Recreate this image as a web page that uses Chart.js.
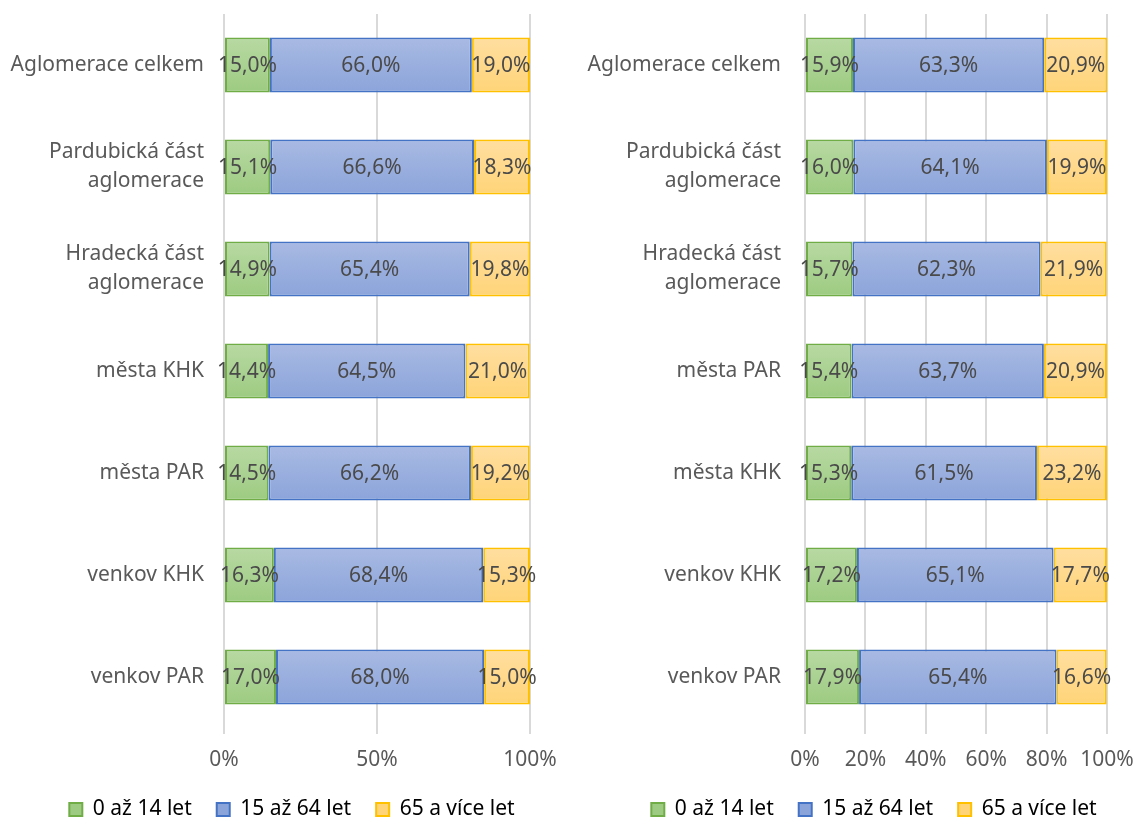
<!DOCTYPE html>
<html>
<head>
<meta charset="utf-8">
<script src="https://cdn.jsdelivr.net/npm/chart.js@4"></script>
<style>
  body { margin: 0; background: #fff; }
  .box { position: absolute; top: 0; width: 565px; height: 820px; }
  #left { left: 0; }
  #right { left: 573px; }
</style>
</head>
<body>
<div class="box" id="left"><canvas id="chartLeft"></canvas></div>
<div class="box" id="right"><canvas id="chartRight"></canvas></div>
<script>
// series
const seriesNames = ["0 až 14 let", "15 až 64 let", "65 a více let"];

// left chart
const leftLabels = ["Aglomerace celkem", ["Pardubická část", "aglomerace"], ["Hradecká část", "aglomerace"], "města KHK", "města PAR", "venkov KHK", "venkov PAR"];
const leftYoung = [15.0, 15.1, 14.9, 14.4, 14.5, 16.3, 17.0];
const leftMid = [66.0, 66.6, 65.4, 64.5, 66.2, 68.4, 68.0];
const leftOld = [19.0, 18.3, 19.8, 21.0, 19.2, 15.3, 15.0];
const leftTicks = [0, 50, 100];

// right chart
const rightLabels = ["Aglomerace celkem", ["Pardubická část", "aglomerace"], ["Hradecká část", "aglomerace"], "města PAR", "města KHK", "venkov KHK", "venkov PAR"];
const rightYoung = [15.9, 16.0, 15.7, 15.4, 15.3, 17.2, 17.9];
const rightMid = [63.3, 64.1, 62.3, 63.7, 61.5, 65.1, 65.4];
const rightOld = [20.9, 19.9, 21.9, 20.9, 23.2, 17.7, 16.6];
const rightTicks = [0, 20, 40, 60, 80, 100];

const fillTop = ["#b8d9a3", "#a9bae3", "#ffdea0"];
const fillBottom = ["#9dcb81", "#8ba4da", "#ffd478"];
const borders = ["#70ad47", "#4472c4", "#ffc000"];
const textColor = "#595959";
const fontFamily = "'Noto Sans', sans-serif";
const barPct = 0.54;

function fmt(v) {
  return v.toFixed(1).replace(".", ",") + "%";
}

// excel-like vertical gradient on each bar
function barFill(i) {
  return function (c) {
    const chart = c.chart;
    const y = chart.scales.y;
    if (!chart.chartArea || !y || c.dataIndex === undefined) return fillBottom[i];
    const mid = y.getPixelForValue(c.dataIndex);
    const half = (chart.chartArea.height / chart.data.labels.length) * barPct / 2;
    const g = chart.ctx.createLinearGradient(0, mid - half, 0, mid + half);
    g.addColorStop(0, fillTop[i]);
    g.addColorStop(1, fillBottom[i]);
    return g;
  };
}

const barLabels = {
  id: "barLabels",
  afterDatasetsDraw(chart) {
    const ctx = chart.ctx;
    ctx.save();
    ctx.font = "21px " + fontFamily;
    ctx.fillStyle = "#4a4a4a";
    ctx.textAlign = "center";
    ctx.textBaseline = "middle";
    chart.data.datasets.forEach((ds, i) => {
      chart.getDatasetMeta(i).data.forEach((el, j) => {
        ctx.fillText(fmt(ds.data[j]), (el.x + el.base) / 2, el.y + 1);
      });
    });
    ctx.restore();
  }
};

// legend sits under the plot, not under the whole canvas
const legendShift = {
  id: "legendShift",
  afterLayout(chart, args, opts) {
    chart.legend.left += opts.dx;
    chart.legend.right += opts.dx;
  }
};

function makeChart(id, labels, young, mid, old, ticks, axisWidth, labelPad, padRight, dx) {
  const values = [young, mid, old];
  new Chart(id, {
    type: "bar",
    data: {
      labels: labels,
      datasets: seriesNames.map((name, i) => ({
        label: name,
        data: values[i],
        backgroundColor: barFill(i),
        borderColor: borders[i],
        borderWidth: 2,
        borderSkipped: false,
        barPercentage: barPct,
        categoryPercentage: 1
      }))
    },
    options: {
      indexAxis: "y",
      responsive: true,
      maintainAspectRatio: false,
      animation: false,
      layout: { padding: { top: 14, right: padRight, bottom: -10, left: 0 } },
      plugins: {
        tooltip: { enabled: false },
        legendShift: { dx: dx },
        legend: {
          position: "bottom",
          labels: {
            color: textColor,
            font: { family: fontFamily, size: 21 },
            boxWidth: 13,
            boxHeight: 13,
            padding: 25,
            generateLabels(chart) {
              return chart.data.datasets.map((ds, i) => ({
                text: ds.label,
                fillStyle: fillBottom[i],
                strokeStyle: borders[i],
                lineWidth: 2,
                datasetIndex: i
              }));
            }
          }
        }
      },
      scales: {
        x: {
          stacked: true,
          min: 0,
          max: 100,
          afterBuildTicks(axis) {
            axis.ticks = ticks.map(v => ({ value: v }));
          },
          afterFit(axis) {
            axis.height = 46;
            axis.paddingLeft = 0;
            axis.paddingRight = 0;
          },
          ticks: {
            color: textColor,
            font: { family: fontFamily, size: 21 },
            padding: 13,
            callback: v => v + "%"
          },
          grid: { color: "#d9d9d9", lineWidth: 2, tickLength: 6 },
          border: { display: false }
        },
        y: {
          stacked: true,
          afterFit(axis) {
            axis.width = axisWidth;
            axis.paddingTop = 0;
            axis.paddingBottom = 0;
          },
          ticks: {
            color: textColor,
            font: { family: fontFamily, size: 21, lineHeight: 1.38 },
            padding: labelPad
          },
          grid: { display: false },
          border: { display: false }
        }
      }
    },
    plugins: [barLabels, legendShift]
  });
}

makeChart("chartLeft", leftLabels, leftYoung, leftMid, leftOld, leftTicks, 224, 12, 35, 27);
makeChart("chartRight", rightLabels, rightYoung, rightMid, rightOld, rightTicks, 232, 16, 31, 34);
</script>
</body>
</html>
